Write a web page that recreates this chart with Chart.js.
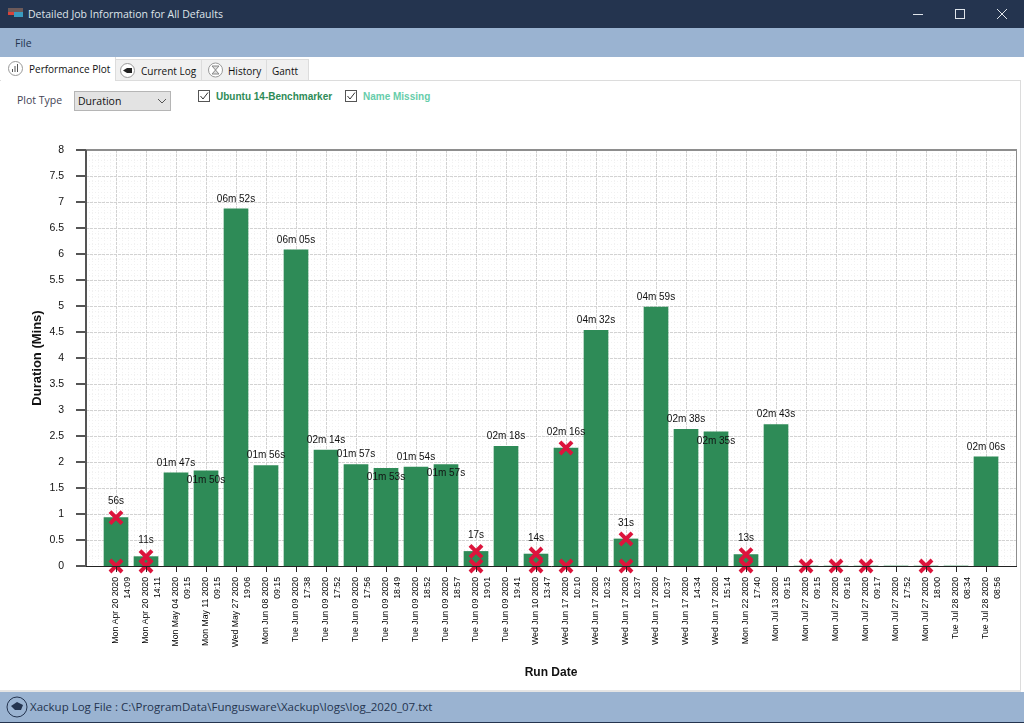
<!DOCTYPE html>
<html><head><meta charset="utf-8">
<script src="https://cdn.jsdelivr.net/npm/chart.js@4"></script>
<style>
html,body{margin:0;padding:0;background:#fff;width:1024px;height:723px;overflow:hidden;font-family:"Open Sans","Noto Sans",sans-serif;}
.a{position:absolute;white-space:nowrap}
#title{left:0;top:0;width:1024px;height:28px;background:#24344f;}
#menu{left:0;top:28px;width:1024px;height:29px;background:#9ab3d1;}
#status{left:0;top:692px;width:1024px;height:31px;background:#9ab3d1;border-bottom:1px solid #24344f;box-sizing:border-box}
.tab{top:59px;height:21px;background:#f0f0f0;border:1px solid #dcdcdc;border-bottom:none;box-sizing:border-box;font-size:10px;line-height:22px;color:#111}
.cb{width:12px;height:12px;border:1px solid #555;box-sizing:border-box;background:#fff}
canvas{position:absolute;left:0;top:100px}
svg{position:absolute;overflow:visible}
</style></head><body>
<div class="a" id="title"></div>
<div class="a" style="left:8px;top:8px;width:15px;height:4px;background:#6d5a5a"></div>
<div class="a" style="left:8px;top:12px;width:9px;height:3px;background:#d8443a"></div>
<div class="a" style="left:14px;top:12px;width:9px;height:5px;background:#3a9bc0"></div>
<div class="a" style="left:28px;top:7px;font-size:10.5px;color:#dfe4ea">Detailed Job Information for All Defaults</div>
<svg style="left:0;top:0" width="1024" height="28"><g stroke="#dfe4ea" stroke-width="1" fill="none"><path d="M913 14.5H923"/><rect x="955.5" y="9.5" width="9" height="9"/><path d="M997 9L1007 19M1007 9L997 19"/></g></svg>
<div class="a" id="menu"></div>
<div class="a" style="left:15px;top:36px;font-size:10.5px;color:#24344f">File</div>
<div class="a tab" style="left:115px;width:87px;padding-left:25px">Current Log</div>
<div class="a tab" style="left:201px;width:66px;padding-left:26px">History</div>
<div class="a tab" style="left:266px;width:43px;padding-left:5px">Gantt</div>
<div class="a" style="left:0;top:80px;width:1020px;height:1px;background:#dcdcdc"></div>
<div class="a" style="left:1px;top:57px;width:115px;height:24px;background:#fff;border-right:1px solid #dcdcdc;box-sizing:border-box;font-size:10px;line-height:24px;padding-left:28px;color:#111">Performance Plot</div>
<div class="a" style="left:1020px;top:80px;width:1px;height:612px;background:#dcdcdc"></div>
<div class="a" style="left:0;top:690px;width:1021px;height:2px;background:#e4e4e4"></div>
<svg style="left:0;top:0" width="320" height="90">
  <g fill="#fff" stroke="#999"><circle cx="15.5" cy="68.5" r="7"/><circle cx="127.5" cy="70.5" r="7"/><circle cx="215.5" cy="70" r="7"/></g>
  <g stroke="#555"><path d="M12.5 72V69M15 72V66M17.5 72V64"/></g>
  <path d="M123 70.5L127 68H132V73H127Z" fill="#222"/>
  <path d="M212 66H219L212 74H219Z" fill="#ddd" stroke="#888"/>
</svg>
<div class="a" style="left:17px;top:93px;font-size:10.5px;color:#445">Plot Type</div>
<div class="a" style="left:74px;top:91px;width:97px;height:20px;background:#e3e3e3;border:1px solid #b5b5b5;box-sizing:border-box;font-size:10.5px;line-height:18px;padding-left:3px;color:#111">Duration</div>
<div class="a cb" style="left:198px;top:90px"></div>
<div class="a" style="left:216px;top:91px;font-size:10px;font-weight:bold;color:#2e8b57;font-family:'Liberation Sans'">Ubuntu 14-Benchmarker</div>
<div class="a cb" style="left:345px;top:90px"></div>
<div class="a" style="left:363px;top:91px;font-size:10px;font-weight:bold;color:#66cdaa;font-family:'Liberation Sans'">Name Missing</div>
<canvas id="c" width="1024" height="590" style="width:1024px;height:590px"></canvas>
<svg style="left:0;top:0;z-index:2" width="400" height="115"><g fill="none" stroke="#333"><path d="M158 99L162 103L166 99" stroke="#555"/><path d="M200.5 96L203 99L208 92.5"/><path d="M347.5 96L350 99L355 92.5"/></g></svg>
<div class="a" id="status"></div>
<svg style="left:0;top:690px;z-index:2" width="40" height="33"><circle cx="17" cy="17" r="10" fill="none" stroke="#24344f"/><path d="M11 16L17 12L23 15L21 20L15 20Z" fill="#24344f"/></svg>
<div class="a" style="left:30px;top:699px;font-size:11.5px;color:#24344f">Xackup Log File : C:\ProgramData\Fungusware\Xackup\logs\log_2020_07.txt</div>
<script>
const runDates=["Mon Apr 20 2020","Mon Apr 20 2020","Mon May 04 2020","Mon May 11 2020","Wed May 27 2020","Mon Jun 08 2020","Tue Jun 09 2020","Tue Jun 09 2020","Tue Jun 09 2020","Tue Jun 09 2020","Tue Jun 09 2020","Tue Jun 09 2020","Tue Jun 09 2020","Tue Jun 09 2020","Wed Jun 10 2020","Wed Jun 17 2020","Wed Jun 17 2020","Wed Jun 17 2020","Wed Jun 17 2020","Wed Jun 17 2020","Wed Jun 17 2020","Mon Jun 22 2020","Mon Jul 13 2020","Mon Jul 27 2020","Mon Jul 27 2020","Mon Jul 27 2020","Mon Jul 27 2020","Mon Jul 27 2020","Tue Jul 28 2020","Tue Jul 28 2020"];
const runTimes=["14:09","14:11","09:15","09:15","19:06","09:15","17:38","17:52","17:56","18:49","18:52","18:57","19:01","19:41","13:47","10:10","10:32","10:37","10:37","14:34","15:14","17:40","09:15","09:15","09:16","09:17","17:52","18:00","08:34","08:56"];
const durations=[0.93,0.18,1.79,1.83,6.87,1.93,6.08,2.23,1.95,1.88,1.9,1.95,0.28,2.3,0.23,2.27,4.53,0.52,4.98,2.63,2.58,0.22,2.72,0,0,0,0,0,0,2.1];
const durationLabels=["56s","11s","01m 47s","01m 50s","06m 52s","01m 56s","06m 05s","02m 14s","01m 57s","01m 53s","01m 54s","01m 57s","17s","02m 18s","14s","02m 16s","04m 32s","31s","04m 59s","02m 38s","02m 35s","13s","02m 43s","","","","","","","02m 06s"];
const labelBelow=[3,9,11,20];
const failRuns=[1,2,13,15,16,18,22];
const failTop=[0.93,0.18,0.28,0.23,2.27,0.52,0.22];
const failZero=[1,2,13,15,16,18,22,24,25,26,28];
const yTicks=[0,0.5,1,1.5,2,2.5,3,3.5,4,4.5,5,5.5,6,6.5,7,7.5,8];

const barData=durations.map((v,i)=>({x:i+1,y:v}));
const failData=failRuns.map((r,i)=>({x:r,y:failTop[i]})).concat(failZero.map(r=>({x:r,y:0})));

const valueLabels={id:'valueLabels',afterDatasetsDraw(ch){
  const c=ch.ctx,xs=ch.scales.x,ys=ch.scales.y;
  c.save();c.font='10px "Liberation Sans"';c.fillStyle='#111';c.textAlign='center';c.textBaseline='middle';
  durationLabels.forEach((t,i)=>{ if(!t)return;
    const py=ys.getPixelForValue(durations[i]);
    const dy=labelBelow.includes(i)?9:(failRuns.includes(i+1)?-16:-10);
    c.fillText(t,xs.getPixelForValue(i+1),py+dy);});
  c.restore();
}};
const frame={id:'frame',beforeDatasetsDraw(ch){
  const c=ch.ctx,a=ch.chartArea,xs=ch.scales.x,ys=ch.scales.y;
  c.save();
  c.lineWidth=1;
  c.strokeStyle='#f1f1f1';c.setLineDash([1,2]);
  for(let k=1;k<80;k++){const y=Math.round(ys.getPixelForValue(k/10))+.5;c.beginPath();c.moveTo(a.left,y);c.lineTo(a.right,y);c.stroke();}
  for(let k=1;k<155;k++){const x=Math.round(xs.getPixelForValue(k/5))+.5;c.beginPath();c.moveTo(x,a.top);c.lineTo(x,a.bottom);c.stroke();}
  c.strokeStyle='#d2d2d2';c.setLineDash([3,1]);
  yTicks.forEach(v=>{const y=Math.round(ys.getPixelForValue(v))+.5;c.beginPath();c.moveTo(a.left,y);c.lineTo(a.right,y);c.stroke();});
  for(let i=1;i<=30;i++){const x=Math.round(xs.getPixelForValue(i))+.5;c.beginPath();c.moveTo(x,a.top);c.lineTo(x,a.bottom);c.stroke();}
  c.setLineDash([]);
  c.strokeStyle='#8e8e8e';c.beginPath();c.moveTo(a.right+.5,a.top);c.lineTo(a.right+.5,a.bottom);c.stroke();
  c.lineWidth=2;c.beginPath();c.moveTo(a.left,a.top);c.lineTo(a.right+1,a.top);c.stroke();
  c.restore();
},afterDatasetsDraw(ch){
  const c=ch.ctx,a=ch.chartArea,xs=ch.scales.x,ys=ch.scales.y;
  c.save();
  c.strokeStyle='#555';c.lineWidth=2;
  c.beginPath();c.moveTo(a.left,a.top);c.lineTo(a.left,a.bottom);c.stroke();
  yTicks.forEach(v=>{const y=Math.round(ys.getPixelForValue(v));c.beginPath();c.moveTo(a.left-10,y);c.lineTo(a.left,y);c.stroke();});
  c.strokeStyle='#222';c.lineWidth=1;
  c.beginPath();c.moveTo(a.left,a.bottom+.5);c.lineTo(a.right+1,a.bottom+.5);c.stroke();
  for(let i=1;i<=30;i++){const x=Math.round(xs.getPixelForValue(i))+.5;c.beginPath();c.moveTo(x,a.bottom);c.lineTo(x,a.bottom+6);c.stroke();}
  c.restore();
}};

new Chart(document.getElementById('c'),{
  type:'bar',
  data:{datasets:[
    {type:'scatter',data:failData,order:0,pointStyle:'crossRot',pointRadius:8.5,pointHoverRadius:8.5,pointBorderWidth:4,borderColor:'#dc143c',backgroundColor:'#dc143c',clip:false},
    {type:'bar',data:barData,order:1,backgroundColor:'#2e8b57',barThickness:24,grouped:false}
  ]},
  options:{
    responsive:false,animation:false,devicePixelRatio:1,
    layout:{autoPadding:false,padding:{top:50,right:8,left:30,bottom:0}},
    plugins:{legend:{display:false},tooltip:{enabled:false}},
    scales:{
      x:{type:'linear',offset:false,min:0,max:31,
        afterFit(s){s.height=590-466;s.paddingLeft=0;s.paddingRight=0;},
        grid:{display:false},border:{display:false},
        title:{display:true,text:'Run Date',color:'#111',font:{family:'Liberation Sans',size:12,weight:'bold'},padding:{top:0,bottom:10}},
        afterBuildTicks(s){s.ticks=runDates.map((_,i)=>({value:i+1}));},
        ticks:{autoSkip:false,maxRotation:90,minRotation:90,padding:3,color:'#000',font:{family:'Liberation Sans',size:8.7,lineHeight:1.38},
          callback:(v)=>[runDates[v-1],runTimes[v-1]]}
      },
      y:{min:0,max:8,
        afterFit(s){s.width=56;},
        afterBuildTicks(s){s.ticks=yTicks.map(v=>({value:v}));},
        grid:{display:false},border:{display:false},
        title:{display:true,text:'Duration (Mins)',color:'#111',font:{family:'Liberation Sans',size:13,weight:'bold'},padding:{top:0,bottom:0}},
        ticks:{padding:14,color:'#111',font:{family:'Liberation Sans',size:10.5},callback:v=>String(v)}
      }
    }
  },
  plugins:[frame,valueLabels]
});
</script>
</body></html>
